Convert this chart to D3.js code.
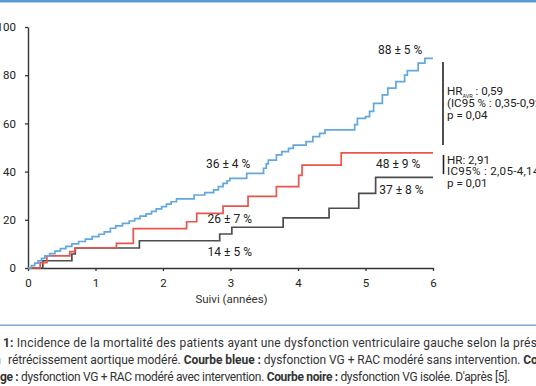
<!DOCTYPE html>
<html>
<head>
<meta charset="utf-8">
<script src="https://cdn.jsdelivr.net/npm/d3@7"></script>
<title>Mortalité</title>
<style>
body { margin: 0; background: #fff; }
svg { display: block; font-family: Roboto, "Noto Sans", sans-serif; }
</style>
</head>
<body>
<script>

var width = 536,
    height = 386;

// courbe bleue : [années, %]
var bleue = [
  [0, 0], [0.05, 1], [0.1, 2], [0.15, 3], [0.2, 4], [0.25, 5], [0.32, 6], [0.4, 7],
  [0.48, 8], [0.56, 9], [0.65, 10], [0.75, 11], [0.85, 12], [0.95, 13], [1.05, 14],
  [1.13, 15], [1.22, 16.5], [1.3, 17.5], [1.4, 18.5], [1.5, 19.5], [1.58, 20.5],
  [1.66, 21.5], [1.75, 22.5], [1.83, 23.5], [1.9, 24.5], [1.98, 25.5], [2.05, 26.5],
  [2.12, 27.5], [2.2, 28.7], [2.46, 30.3], [2.62, 31.3], [2.75, 32.4], [2.82, 33.8],
  [2.89, 35.1], [2.95, 36.2], [2.99, 37.2], [3.24, 39.3], [3.49, 41.4], [3.53, 43.2],
  [3.56, 44.8], [3.68, 46.9], [3.76, 48.3], [3.86, 49.6], [3.93, 51],
  [4.12, 52.4], [4.22, 54.5], [4.32, 55.9], [4.4, 57.3], [4.84, 59.5], [4.88, 62.1],
  [5.0, 62.8], [5.06, 65], [5.12, 68.3], [5.25, 71.8], [5.33, 74.6], [5.45, 77.3],
  [5.58, 80], [5.62, 81.9], [5.78, 85], [5.88, 87], [6.0, 87]
];

var rouge = [
  [0, 0], [0.18, 2.2], [0.28, 5], [0.62, 6.8], [0.7, 8.4], [1.31, 10.2], [1.56, 16.3],
  [2.35, 19.2], [2.5, 22.7], [2.89, 25.7], [3.26, 29.7], [3.68, 33.8], [4.01, 38.4],
  [4.06, 42.7], [4.64, 47.8], [6.0, 47.8]
];

var noire = [
  [0, 0], [0.22, 3], [0.65, 5.8], [0.7, 8.3], [1.65, 11.3], [2.84, 14.1], [3.02, 16.9],
  [3.78, 20.8], [4.46, 24.8], [4.9, 31], [5.15, 37.6], [6.0, 37.6]
];

var yTicks = [0, 20, 40, 60, 80, 100];
var xTicks = [0, 1, 2, 3, 4, 5, 6];

// étiquettes [texte, année, %] (début du texte)
var etiquettes = [
  ["88 ± 5 %", 5.185, 88.8],
  ["36 ± 4 %", 2.637, 41.5],
  ["26 ± 7 %", 2.66, 18.7],
  ["14 ± 5 %", 2.66, 5.0],
  ["48 ± 9 %", 5.156, 41.5],
  ["37 ± 8 %", 5.204, 30.7]
];

var svg = d3.select("body")
  .append("svg")
  .attr("width", width)
  .attr("height", height);

var x = d3.scaleLinear().domain([0, 6]).range([28, 433]);
var y = d3.scaleLinear().domain([0, 100]).range([268, 27]);

// filets bleus
svg.append("rect").attr("x", 0).attr("y", 0).attr("width", width).attr("height", 2.5)
  .attr("fill", "#5b9bd5");
svg.append("rect").attr("x", 0).attr("y", 324.5).attr("width", width).attr("height", 1.3)
  .attr("fill", "#6f9fcc");

var axeY = svg.append("g")
  .attr("transform", "translate(" + x(0) + ",0)")
  .call(d3.axisLeft(y).tickValues(yTicks).tickSize(3).tickPadding(9).tickSizeOuter(0)
    .tickFormat(d3.format("d")));

var axeX = svg.append("g")
  .attr("transform", "translate(0," + y(0) + ")")
  .call(d3.axisBottom(x).tickValues(xTicks).tickSize(3).tickPadding(8).tickSizeOuter(0)
    .tickFormat(d3.format("d")));

[axeY, axeX].forEach(function(a) {
  a.select(".domain").attr("stroke", "#333").attr("stroke-width", 1.4);
  a.selectAll(".tick line").attr("stroke", "#333").attr("stroke-width", 1.3);
  a.selectAll(".tick text").attr("fill", "#222").style("font-size", "11.5px")
    .style("font-family", "Roboto");
});

svg.append("text")
  .attr("x", x(3) + 1)
  .attr("y", 303)
  .attr("text-anchor", "middle")
  .attr("fill", "#333")
  .style("font-size", "11.5px")
  .text("Suivi (années)");

var ligne = d3.line()
  .x(function(d) { return x(d[0]); })
  .y(function(d) { return y(d[1]); })
  .curve(d3.curveStepAfter);

[[noire, "#4d4d4d"], [rouge, "#e8554a"], [bleue, "#62a8dd"]].forEach(function(c) {
  svg.append("path")
    .datum(c[0])
    .attr("d", ligne)
    .attr("fill", "none")
    .attr("stroke", c[1])
    .attr("stroke-width", 1.7);
});

svg.selectAll(".etiq")
  .data(etiquettes)
  .enter()
  .append("text")
  .attr("class", "etiq")
  .attr("x", function(d) { return x(d[1]); })
  .attr("y", function(d) { return y(d[2]); })
  .attr("fill", "#222")
  .style("font-size", "12px")
  .text(function(d) { return d[0]; });

// barres verticales et statistiques
svg.append("line").attr("x1", 443).attr("x2", 443).attr("y1", 62).attr("y2", 145)
  .attr("stroke", "#222").attr("stroke-width", 1.6);
svg.append("line").attr("x1", 443.5).attr("x2", 443.5).attr("y1", 155).attr("y2", 174)
  .attr("stroke", "#222").attr("stroke-width", 1.6);

var stats = svg.append("g").attr("fill", "#222").style("font-size", "11.6px");
var hr1 = stats.append("text").attr("x", 447).attr("y", 95);
hr1.append("tspan").text("HR");
hr1.append("tspan").attr("dy", 3).style("font-size", "5.5px").text("AVR");
hr1.append("tspan").attr("dy", -3).text(" : 0,59");
stats.append("text").attr("x", 447).attr("y", 107).text("(IC95 % : 0,35-0,92)");
stats.append("text").attr("x", 447).attr("y", 118.5).text("p = 0,04");
stats.append("text").attr("x", 447).attr("y", 163.5).text("HR: 2,91");
stats.append("text").attr("x", 447).attr("y", 175).style("letter-spacing", "0.3px").text("IC95% : 2,05-4,14");
stats.append("text").attr("x", 447).attr("y", 186.5).text("p = 0,01");

// légende
var legende = svg.append("g").attr("fill", "#333").style("font-size", "12px");

var l1 = legende.append("text").attr("x", 3).attr("y", 347).style("letter-spacing", "0.2px");
l1.append("tspan").style("font-weight", "bold").text("1: ");
l1.append("tspan").text("Incidence de la mortalité des patients ayant une dysfonction ventriculaire gauche selon la présence");
legende.append("text").attr("x", -2).attr("y", 347).attr("text-anchor", "end")
  .style("font-weight", "bold").text("Figure");

var l2 = legende.append("text").attr("x", 8).attr("y", 364).style("letter-spacing", "-0.05px");
l2.append("tspan").text("rétrécissement aortique modéré. ");
l2.append("tspan").style("font-weight", "bold").text("Courbe bleue : ");
l2.append("tspan").text("dysfonction VG + RAC modéré sans intervention. ");
l2.append("tspan").style("font-weight", "bold").text("Courbe");
legende.append("text").attr("x", 1).attr("y", 364).attr("text-anchor", "end").text("d'un");

var l3 = legende.append("text").attr("x", 0).attr("y", 381).style("letter-spacing", "-0.33px");
l3.append("tspan").style("font-weight", "bold").text("ge : ");
l3.append("tspan").text("dysfonction VG + RAC modéré avec intervention. ");
l3.append("tspan").style("font-weight", "bold").text("Courbe noire : ");
l3.append("tspan").text("dysfonction VG isolée. D'après [5].");
legende.append("text").attr("x", 0).attr("y", 381).attr("text-anchor", "end")
  .style("font-weight", "bold").text("rou");

</script>
</body>
</html>
